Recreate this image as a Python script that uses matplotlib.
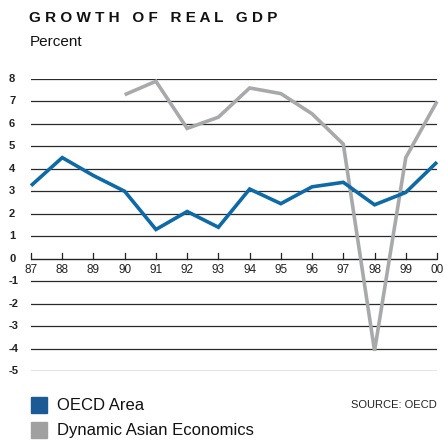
import matplotlib.pyplot as plt

# Data
years = [1987, 1988, 1989, 1990, 1991, 1992, 1993, 1994, 1995, 1996, 1997, 1998, 1999, 2000]
year_labels = ["87", "88", "89", "90", "91", "92", "93", "94", "95", "96", "97", "98", "99", "00"]
oecd = [3.25, 4.5, 3.7, 3.0, 1.3, 2.1, 1.4, 3.1, 2.45, 3.2, 3.4, 2.4, 2.95, 4.3]
asia_years = [1990, 1991, 1992, 1993, 1994, 1995, 1996, 1997, 1998, 1999, 2000]
asia = [7.3, 7.9, 5.8, 6.3, 7.6, 7.35, 6.45, 5.1, -4.1, 4.5, 7.0]
y_ticks = [8, 7, 6, 5, 4, 3, 2, 1, 0, -1, -2, -3, -4, -5]

blue = "#0e6aa6"
grey = "#a8a9ab"

W, H = 444, 445
plt.rcParams['font.family'] = ['Liberation Sans', 'DejaVu Sans']
fig = plt.figure(figsize=(W / 100, H / 100), dpi=100)

left, right = 31 / W, 437 / W
top, bottom = 1 - 79 / H, 1 - 371 / H
ax = fig.add_axes([left, bottom, right - left, top - bottom])
ax.set_xlim(1987, 2000)
ax.set_ylim(-5, 8)
ax.axis("off")

# horizontal rules and bold value labels on the left
for v in y_ticks:
    if v != 0:
        ax.axhline(v, color="#2a2a2a", lw=0.9, zorder=1)
    fig.text(9 / W, bottom + (v + 5) / 13 * (top - bottom), str(v), ha="left", va="center",
             fontsize=8, fontweight="bold", color="#222222")

# zero axis with upward ticks
ax.axhline(0, color="#222222", lw=1.0, zorder=1)
for yr, lab in zip(years, year_labels):
    ax.plot([yr, yr], [0, 0.27], color="#222222", lw=0.9, zorder=1, clip_on=False)
    ax.text(yr, -0.25, lab, ha="center", va="top", fontsize=8.5, color="#222222")

ax.plot(asia_years, asia, color=grey, lw=2.6, solid_joinstyle="miter",
        solid_capstyle="butt", zorder=2, clip_on=False)
ax.plot(years, oecd, color=blue, lw=2.6, solid_joinstyle="miter",
        solid_capstyle="butt", zorder=3, clip_on=False)

# title
fig.text(29 / W, 1 - 18 / H, "G R O W T H   O F   R E A L   G D P", ha="left", va="center",
         fontsize=11, fontweight="bold", color="#111111")
fig.text(30 / W, 1 - 42 / H, "Percent", ha="left", va="center", fontsize=11, color="#111111")

# legend
fig.patches.append(plt.Rectangle((31 / W, 1 - 413 / H), 16 / W, 16 / H,
                                 transform=fig.transFigure, color="#1b5a94"))
fig.text(57 / W, 1 - 405 / H, "OECD Area", ha="left", va="center", fontsize=12, color="#111111")
fig.patches.append(plt.Rectangle((31 / W, 1 - 438 / H), 16 / W, 16 / H,
                                 transform=fig.transFigure, color="#a0a0a0"))
fig.text(57 / W, 1 - 431 / H, "Dynamic Asian Economics", ha="left", va="center",
         fontsize=12, color="#111111")
fig.text(437 / W, 1 - 405 / H, "SOURCE: OECD", ha="right", va="center", fontsize=8,
         color="#222222")

fig.savefig("out.png", dpi=100)
